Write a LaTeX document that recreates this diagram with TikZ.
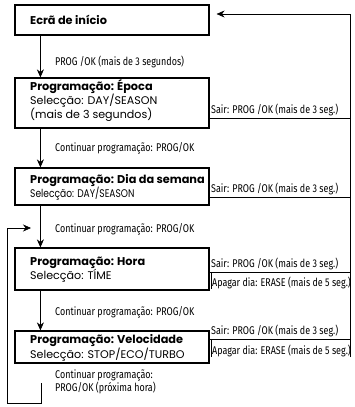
\documentclass[tikz,border=0pt]{standalone}
\usepackage{fontspec}
\setmainfont{Poppins}
\newfontfamily\boxfont{Poppins}
\newfontfamily\boxcond[FakeStretch=0.82]{Poppins}
\newfontfamily\labfont[FakeStretch=0.8]{Fira Sans}
\usetikzlibrary{arrows.meta,calc}
\newcommand{\bxb}[1]{{\fontsize{11.3}{12.5}\selectfont\bfseries #1}}
\begin{document}
\begin{tikzpicture}[x=1pt,y=-1pt,
  box/.style={draw,line width=1.2pt,minimum width=194pt,inner sep=0pt},
  btxt/.style={anchor=west,align=left,inner sep=0pt,font=\boxfont\fontsize{11.1}{12.5}\selectfont},
  lab/.style={anchor=west,align=left,inner sep=0pt,font=\labfont\fontsize{11.2}{13}\selectfont},
  conn/.style={line width=0.6pt},
  arr/.style={line width=0.6pt,-{Stealth[length=8pt,width=7pt]}}]
\useasboundingbox (0,0) rectangle (354,407);
% boxes
\node[box,minimum height=30pt] (b1) at (112,20) {};
\node[box,minimum height=50pt] (b2) at (112,103) {};
\node[box,minimum height=37pt] (b3) at (112,186.5) {};
\node[box,minimum height=42pt] (b4) at (112,269) {};
\node[box,minimum height=32pt] (b5) at (112,347) {};
% box texts
\node[btxt] (t1) at (30,20) {\bxb{Ecrã de início}};
\node[btxt] (t2) at (30,100.5) {\bxb{Programação: Época}\\Selecção: DAY/SEASON\\(mais de 3 segundos)};
\node[btxt] (t3) at (30,187.5) {\bxb{Programação: Dia da semana}\\{\boxcond Selecção: DAY/SEASON}};
\node[btxt] (t4) at (30,269.5) {\bxb{Programação: Hora}\\Selecção: TÍME};
\node[btxt] (t5) at (30,348) {\bxb{Programação: Velocidade}\\Selecção: STOP/ECO/TURBO};
% right return line
\coordinate (rtop) at (350,14);
\coordinate (rbot) at (350,357);
\draw[arr] (rbot) -- (rtop) -- ($(b1.east |- rtop)+(7,0)$);
% exits
\coordinate (e2) at (350,118);
\coordinate (e3) at (350,197);
\coordinate (e4) at (350,272);
\coordinate (e5) at (350,339);
\draw[conn] (b2.east |- e2) -- (e2);
\draw[conn] (b3.east |- e3) -- (e3);
\draw[conn] (b4.east |- e4) -- (e4);
\draw[conn] (b5.east |- e5) -- (e5);
\draw[conn] ($(b4.east |- e4)+(2,0)$) -- ($(b4.south east)+(2,-2)$);
\draw[conn] ($(b5.east |- e5)+(2,0)$) -- ($(b5.east |- rbot)+(2,0)$);
% exit labels
\node[lab,anchor=south west] (s2) at (211,116.5) {Sair: PROG /OK (mais de 3 seg.)};
\node[lab,anchor=south west] (s3) at (211,195.5) {Sair: PROG /OK (mais de 3 seg.)};
\node[lab,anchor=south west] (s4) at (211,270.5) {Sair: PROG /OK (mais de 3 seg.)};
\node[lab] (a4) at (212,283) {Apagar dia: ERASE (mais de 5 seg.)};
\node[lab,anchor=south west] (s5) at (211,337.5) {Sair: PROG /OK (mais de 3 seg.)};
\node[lab] (a5) at (212,351) {Apagar dia: ERASE (mais de 5 seg.)};
% down arrows
\draw[arr] ($(b1.south west)+(26,0)$) -- ($(b2.north west)+(26,0)$);
\draw[arr] ($(b2.south west)+(26,0)$) -- ($(b3.north west)+(26,0)$);
\draw[arr] ($(b3.south west)+(26,0)$) -- ($(b4.north west)+(26,0)$);
\draw[arr] ($(b4.south west)+(26,0)$) -- ($(b5.north west)+(26,0)$);
\node[lab] (c1) at (55,62) {PROG /OK (mais de 3 segundos)};
\node[lab] (c2) at (55,148) {Continuar programação: PROG/OK};
\node[lab] (c3) at (55,229) {Continuar programação: PROG/OK};
\node[lab] (c4) at (55,312) {Continuar programação: PROG/OK};
\node[lab] (c5) at (55,381.5) {Continuar programação:\\PROG/OK (próxima hora)};
% loop back
\coordinate (l1) at (41,383);
\coordinate (l2) at (41,403);
\coordinate (l3) at (7,403);
\coordinate (l4) at (7,228);
\coordinate (l5) at (31,228);
\draw[arr] (l1) -- (l2) -- (l3) -- (l4) -- (l5);
\end{tikzpicture}
\end{document}
